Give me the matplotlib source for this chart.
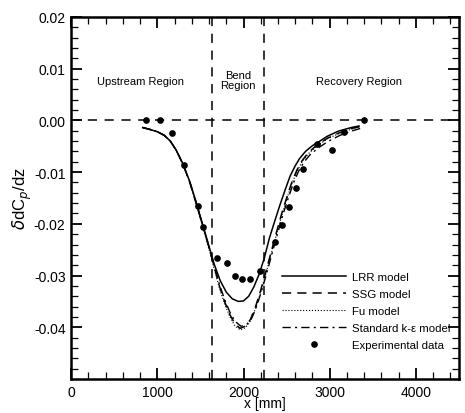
import numpy as np
import matplotlib.pyplot as plt
from matplotlib.ticker import MultipleLocator, FixedLocator

plt.rcParams['font.family'] = ['Liberation Sans', 'DejaVu Sans']

# model curves (x in mm)
lrr_x = [830, 900, 1000, 1080, 1150, 1220, 1300, 1380, 1450, 1520, 1590, 1660, 1730,
         1800, 1870, 1940, 2000, 2060, 2120, 2180, 2240, 2300, 2360, 2420, 2480, 2540,
         2600, 2650, 2720, 2800, 2860, 2970, 3100, 3250, 3340]
lrr_y = [-0.0014, -0.0017, -0.0022, -0.0029, -0.0040, -0.0058, -0.0085, -0.0120,
         -0.0158, -0.0198, -0.0238, -0.0278, -0.0310, -0.0332, -0.0345, -0.0350,
         -0.0349, -0.0340, -0.0322, -0.0298, -0.0267, -0.0228, -0.0196, -0.0165,
         -0.0136, -0.0108, -0.0088, -0.0074, -0.0060, -0.0049, -0.0043, -0.0031,
         -0.0021, -0.0014, -0.0011]

ssg_x = [830, 900, 1000, 1080, 1150, 1220, 1300, 1380, 1450, 1520, 1590, 1660, 1720,
         1780, 1840, 1900, 1960, 2020, 2080, 2140, 2200, 2260, 2320, 2380, 2440, 2500,
         2560, 2620, 2680, 2750, 2850, 2970, 3100, 3250, 3350]
ssg_y = [-0.0014, -0.0017, -0.0022, -0.0029, -0.0040, -0.0058, -0.0086, -0.0122,
         -0.0160, -0.0200, -0.0240, -0.0283, -0.0320, -0.0350, -0.0375, -0.0393,
         -0.0402, -0.0398, -0.0385, -0.0360, -0.0328, -0.0292, -0.0255, -0.0218,
         -0.0182, -0.0150, -0.0120, -0.0096, -0.0078, -0.0063, -0.0048, -0.0035,
         -0.0025, -0.0016, -0.0012]

fu_x = [830, 900, 1000, 1080, 1150, 1220, 1300, 1380, 1450, 1520, 1590, 1660, 1720,
        1780, 1840, 1900, 1960, 2020, 2080, 2140, 2200, 2260, 2320, 2380, 2440, 2500,
        2560, 2620, 2680, 2750, 2850, 2970, 3100, 3250, 3350]
fu_y = [-0.0014, -0.0017, -0.0022, -0.0029, -0.0040, -0.0058, -0.0086, -0.0122,
        -0.0161, -0.0202, -0.0243, -0.0287, -0.0324, -0.0354, -0.0379, -0.0397,
        -0.0405, -0.0401, -0.0388, -0.0364, -0.0332, -0.0296, -0.0259, -0.0222,
        -0.0186, -0.0153, -0.0123, -0.0099, -0.0080, -0.0065, -0.0050, -0.0036,
        -0.0026, -0.0017, -0.0013]

ke_x = [830, 900, 1000, 1080, 1150, 1220, 1300, 1380, 1450, 1520, 1590, 1660, 1720,
        1780, 1840, 1900, 1970, 2040, 2100, 2160, 2220, 2280, 2340, 2400, 2460, 2520,
        2580, 2640, 2700, 2770, 2870, 2990, 3120, 3270, 3370]
ke_y = [-0.0014, -0.0017, -0.0022, -0.0029, -0.0040, -0.0058, -0.0086, -0.0121,
        -0.0159, -0.0199, -0.0239, -0.0281, -0.0317, -0.0346, -0.0370, -0.0388,
        -0.0398, -0.0394, -0.0381, -0.0356, -0.0324, -0.0289, -0.0252, -0.0216,
        -0.0181, -0.0150, -0.0121, -0.0098, -0.0081, -0.0067, -0.0053, -0.0040,
        -0.0029, -0.0020, -0.0015]

# experimental data
exp_x = [867, 1029, 1168, 1306, 1470, 1526, 1688, 1803, 1896, 1988, 2081, 2190,
         2370, 2451, 2532, 2613, 2694, 2850, 3023, 3170, 3399]
exp_y = [0.0, 0.0, -0.0024, -0.0087, -0.0166, -0.0206, -0.0267, -0.0275, -0.0300,
         -0.0307, -0.0307, -0.0292, -0.0236, -0.0203, -0.0167, -0.0131, -0.0095,
         -0.0046, -0.0058, -0.0023, 0.0]

bend_start = 1640
bend_end = 2240
y_major = [-0.04, -0.03, -0.02, -0.01, 0.0, 0.01, 0.02]

fig = plt.figure(figsize=(4.65, 4.14), dpi=100)
ax = fig.add_axes([0.153, 0.082, 0.834, 0.875])

ax.plot(lrr_x, lrr_y, 'k-', lw=1.1, label='LRR model')
ax.plot(ssg_x, ssg_y, 'k--', lw=1.1, dashes=(6, 4), label='SSG model')
ax.plot(fu_x, fu_y, color='k', ls=':', lw=0.8, label='Fu model')
ax.plot(ke_x, ke_y, 'k-.', lw=1.0, dashes=(6, 3, 1.5, 3), label='Standard k-\u03b5 model')
ax.plot(exp_x, exp_y, 'ko', ms=3.8, ls='none', label='Experimental data')

ax.axhline(0, color='k', ls='--', dashes=(6, 5), lw=1.1)
ax.axvline(bend_start, color='k', ls='--', dashes=(6, 5), lw=1.1)
ax.axvline(bend_end, color='k', ls='--', dashes=(6, 5), lw=1.1)

ax.text(800, 0.0075, 'Upstream Region', ha='center', va='center', fontsize=8)
ax.text(1940, 0.0078, 'Bend\nRegion', ha='center', va='center', fontsize=8, linespacing=0.95)
ax.text(3340, 0.0075, 'Recovery Region', ha='center', va='center', fontsize=8)

ax.set_xlim(0, 4500)
ax.set_ylim(-0.05, 0.02)
ax.xaxis.set_major_locator(MultipleLocator(1000))
ax.xaxis.set_minor_locator(MultipleLocator(200))
ax.yaxis.set_major_locator(FixedLocator(y_major))
ax.yaxis.set_minor_locator(MultipleLocator(0.002))
ax.yaxis.set_major_formatter(plt.FuncFormatter(lambda v, p: '%.2f' % (0.0 if abs(v) < 1e-9 else v)))
ax.tick_params(which='both', direction='in', top=True, right=True, labelsize=10)
ax.tick_params(which='major', length=8, width=1.3, pad=4)
ax.tick_params(which='minor', length=5, width=0.9)
for s in ax.spines.values():
    s.set_linewidth(1.8)

ax.set_xlabel('x [mm]', fontsize=10, labelpad=-2)
ax.set_ylabel(r'$\delta$dC$_p$/dz', fontsize=12, labelpad=0)

ax.legend(loc='lower right', bbox_to_anchor=(0.995, 0.06), frameon=False, fontsize=8.2,
          handlelength=5.6, labelspacing=0.62, borderaxespad=0.2, handletextpad=0.5)

fig.savefig('out.png', dpi=100)
